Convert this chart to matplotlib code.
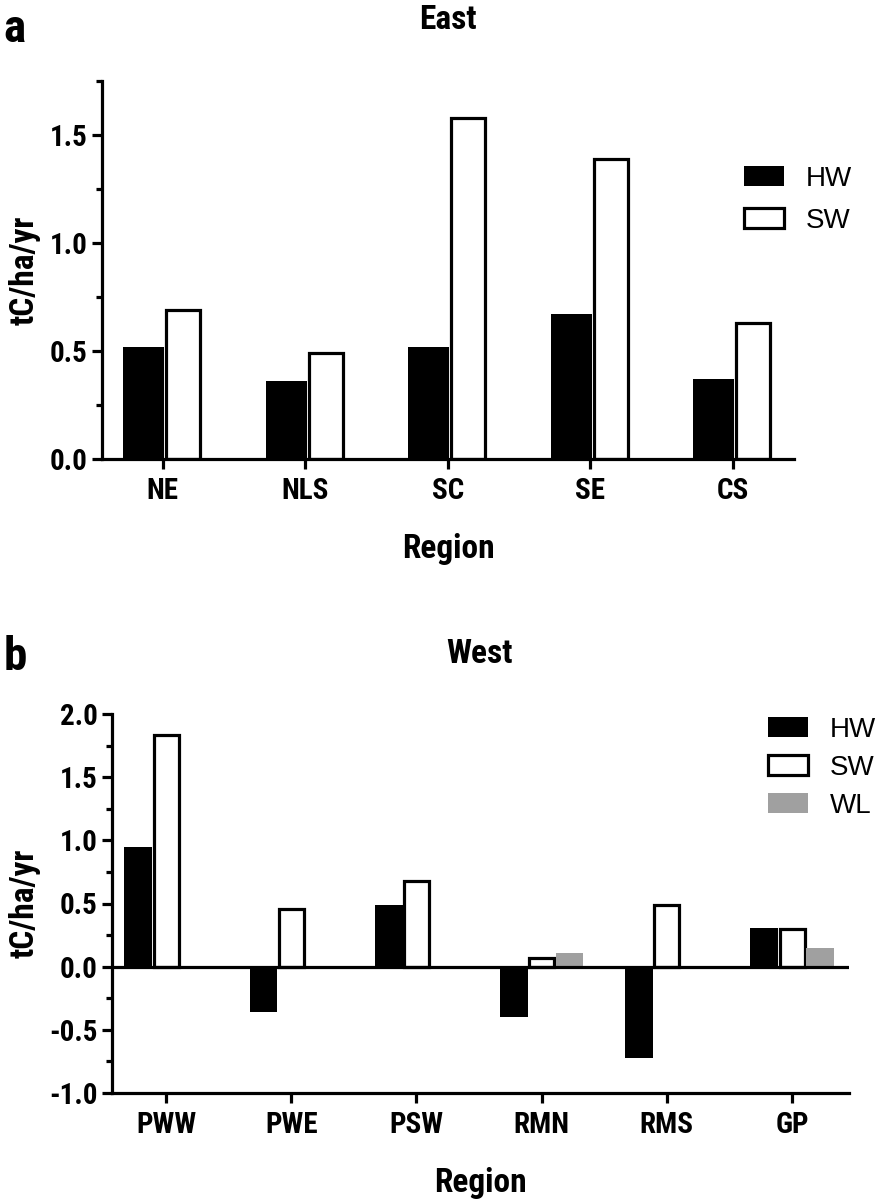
import matplotlib
matplotlib.use("Agg")
import matplotlib.pyplot as plt
from matplotlib.ticker import MultipleLocator, FixedLocator, FormatStrFormatter
from matplotlib.patches import Patch
import numpy as np

# ---------------- data ----------------
east_regions = ['NE', 'NLS', 'SC', 'SE', 'CS']
east_hw = [0.52, 0.36, 0.52, 0.67, 0.37]
east_sw = [0.69, 0.49, 1.58, 1.39, 0.63]

west_regions = ['PWW', 'PWE', 'PSW', 'RMN', 'RMS', 'GP']
west_hw = [0.95, -0.36, 0.49, -0.40, -0.72, 0.31]
west_sw = [1.83, 0.46, 0.68, 0.07, 0.49, 0.30]
west_wl = [0.0, 0.0, -0.02, 0.11, 0.005, 0.15]

series_names = ['HW', 'SW', 'WL']

# ---------------- style ----------------
W, H = 885, 1204
DPI = 100
BOLD = ['Roboto Condensed', 'Liberation Sans Narrow', 'Liberation Sans', 'DejaVu Sans']
REG = ['Liberation Sans', 'DejaVu Sans']
LW = 2.3
GRAY = '#a0a0a0'
TICK_FS = 21

fig = plt.figure(figsize=(W / DPI, H / DPI), dpi=DPI)


def px_axes(x0, y0, x1, y1):
    """axes from pixel box (top-left origin)"""
    return fig.add_axes([x0 / W, 1 - y1 / H, (x1 - x0) / W, (y1 - y0) / H])


def ftext(xp, yp, s, **kw):
    return fig.text(xp / W, 1 - yp / H, s, **kw)


def style_axes(ax):
    for s in ['top', 'right']:
        ax.spines[s].set_visible(False)
    for s in ['left', 'bottom']:
        ax.spines[s].set_linewidth(LW)
    ax.tick_params(axis='both', which='major', width=LW, length=7)
    ax.tick_params(axis='x', which='major', pad=6)
    ax.tick_params(axis='y', which='major', pad=3)
    ax.tick_params(axis='y', which='minor', width=LW, length=4)
    ax.tick_params(axis='x', which='minor', length=0)
    for lab in ax.get_xticklabels() + ax.get_yticklabels():
        lab.set_family(BOLD)
        lab.set_fontweight('bold')
        lab.set_fontsize(TICK_FS)


# ---------------- panel a ----------------
axa = px_axes(101.7, 81, 794, 459)
x = np.arange(len(east_regions))
axa.bar(x - 0.132, east_hw, width=0.288, color='black', edgecolor='black',
        linewidth=0, label=series_names[0], zorder=2)
axa.bar(x + 0.143, east_sw, width=0.238, color='white', edgecolor='black',
        linewidth=LW, label=series_names[1], zorder=2)
axa.set_xlim(-0.428, 4.43)
axa.set_ylim(0, 1.75)
axa.yaxis.set_major_locator(FixedLocator([0, 0.5, 1.0, 1.5]))
axa.yaxis.set_minor_locator(MultipleLocator(0.25))
axa.yaxis.set_major_formatter(FormatStrFormatter('%.1f'))
axa.set_xticks(x)
axa.set_xticklabels(east_regions)
style_axes(axa)

h = [Patch(facecolor='black', edgecolor='black', linewidth=0),
     Patch(facecolor='white', edgecolor='black', linewidth=LW)]
fig.legend(h, series_names[:2], loc='upper left', bbox_to_anchor=(744 / W, 1 - 166 / H),
           frameon=False, prop={'family': REG, 'size': 20}, borderpad=0, borderaxespad=0,
           handlelength=1.44, handleheight=0.72, labelspacing=0.56, handletextpad=0.8)

ftext(448, 29, 'East', family=BOLD, fontweight='bold', fontsize=24,
      ha='center', va='baseline')
ftext(3, 42, 'a', family=BOLD, fontweight='bold', fontsize=34,
      ha='left', va='baseline')
ftext(448, 558, 'Region', family=BOLD, fontweight='bold', fontsize=24,
      ha='center', va='baseline')
ftext(25, 270, 'tC/ha/yr', family=BOLD, fontweight='bold', fontsize=24,
      ha='center', va='center', rotation=90)

# ---------------- panel b ----------------
axb = px_axes(111.7, 714, 849, 1093)
x2 = np.arange(len(west_regions))
axb.bar(x2 - 0.222, west_hw, width=0.222, color='black', edgecolor='black',
        linewidth=0, label=series_names[0], zorder=2)
axb.bar(x2, west_sw, width=0.2, color='white', edgecolor='black',
        linewidth=LW, label=series_names[1], zorder=2)
axb.bar(x2 + 0.222, west_wl, width=0.222, color=GRAY, edgecolor=GRAY,
        linewidth=0, label=series_names[2], zorder=2)
axb.axhline(0, color='black', linewidth=LW, zorder=3)
axb.set_xlim(-0.434, 5.455)
axb.set_ylim(-1.0, 2.0)
axb.yaxis.set_major_locator(FixedLocator([-1.0, -0.5, 0, 0.5, 1.0, 1.5, 2.0]))
axb.yaxis.set_minor_locator(MultipleLocator(0.25))
axb.yaxis.set_major_formatter(FormatStrFormatter('%.1f'))
axb.set_xticks(x2)
axb.set_xticklabels(west_regions)
style_axes(axb)

h2 = [Patch(facecolor='black', edgecolor='black', linewidth=0),
      Patch(facecolor='white', edgecolor='black', linewidth=LW),
      Patch(facecolor=GRAY, edgecolor=GRAY, linewidth=0)]
fig.legend(h2, series_names, loc='upper left', bbox_to_anchor=(768 / W, 1 - 717 / H),
           frameon=False, prop={'family': REG, 'size': 20}, borderpad=0, borderaxespad=0,
           handlelength=1.44, handleheight=0.72, labelspacing=0.43, handletextpad=0.8)

ftext(480, 663, 'West', family=BOLD, fontweight='bold', fontsize=24,
      ha='center', va='baseline')
ftext(4, 670, 'b', family=BOLD, fontweight='bold', fontsize=34,
      ha='left', va='baseline')
ftext(480, 1192, 'Region', family=BOLD, fontweight='bold', fontsize=24,
      ha='center', va='baseline')
ftext(25, 903, 'tC/ha/yr', family=BOLD, fontweight='bold', fontsize=24,
      ha='center', va='center', rotation=90)

fig.savefig('out.png', dpi=DPI)
